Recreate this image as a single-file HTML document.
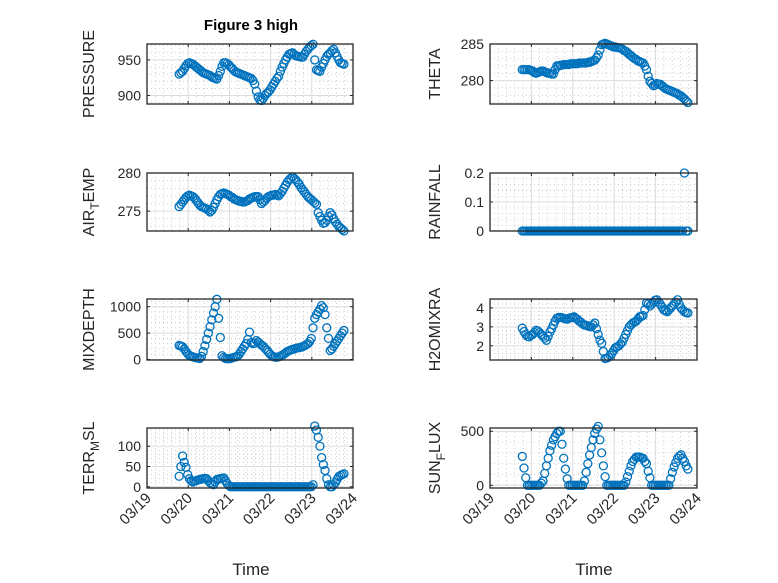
<!DOCTYPE html>
<html><head><meta charset="utf-8"><style>
html,body{margin:0;padding:0;background:#fff}
svg{display:block;font-family:"Liberation Sans","DejaVu Sans",sans-serif}
</style></head><body>
<svg id="fig" width="778" height="583" viewBox="0 0 778 583" xmlns="http://www.w3.org/2000/svg">
<rect width="778" height="583" fill="#fff"/>
<text x="251" y="30" text-anchor="middle" font-size="15" font-weight="bold" fill="#000">Figure 3 high</text>
<text x="251" y="575" text-anchor="middle" font-size="17" fill="#262626">Time</text>
<text x="594" y="575" text-anchor="middle" font-size="17" fill="#262626">Time</text>
</svg>
<script>
// time axis: days since 03/19, hourly samples
const t0 = 0.78;
const tStep = 1/24;
const dateLabels = ["03/19","03/20","03/21","03/22","03/23","03/24"];
const pressure = [930,932,934,938,942,945,946,945,944,942,940,938,936,934,932,931,930,929,928,926,925,924,923,928,934,941,946,946,945,943,940,938,935,933,932,931,930,929,928,927,926,925,924,921,916,906,898,894,893,896,900,903,905,908,912,916,920,924,927,934,940,945,950,954,958,959,960,958,956,955,955,954,954,958,962,965,968,970,972,950,936,935,934,940,945,950,955,958,960,963,965,960,955,950,946,945,944];
const airTemp = [275.6,275.9,276.2,276.5,276.8,277.0,277.1,277.0,276.9,276.7,276.4,276.1,275.8,275.6,275.5,275.4,275.3,275.1,274.9,275.1,275.5,276.0,276.5,276.9,277.2,277.3,277.4,277.3,277.2,277.1,276.9,276.8,276.6,276.5,276.4,276.3,276.3,276.2,276.2,276.3,276.4,276.6,276.7,276.8,276.9,276.9,276.9,276.5,276.0,276.2,276.4,276.7,276.9,277.0,277.1,277.1,277.2,277.1,277.0,277.3,277.6,278.0,278.4,278.8,279.1,279.3,279.5,279.3,279.1,278.8,278.5,278.1,277.8,277.5,277.2,276.9,276.7,276.5,276.3,276.1,275.9,274.8,274.3,273.8,273.4,273.5,273.8,274.3,274.8,274.5,274.0,273.6,273.3,273.0,272.8,272.6,272.4];
const mixDepth = [266,255,240,200,150,110,76,60,50,40,30,25,20,60,150,260,380,500,620,750,880,1000,1140,780,417,70,40,20,15,15,20,30,40,50,60,100,150,200,250,300,380,518,320,300,310,360,330,300,270,250,210,180,140,100,70,50,45,40,50,60,80,100,125,150,165,180,190,200,210,220,225,233,245,260,280,300,340,398,600,780,850,900,950,1020,980,850,600,400,170,200,250,300,350,400,450,500,550];
const terrMsl = [26,50,76,60,48,30,20,15,12,14,15,17,18,19,20,21,20,15,10,7,5,12,18,19,20,21,22,15,8,3,0,0,0,0,0,0,0,0,0,0,0,0,0,0,0,0,0,0,0,0,0,0,0,0,0,0,0,0,0,0,0,0,0,0,0,0,0,0,0,0,0,0,0,0,0,0,0,0,5,150,140,122,100,72,55,40,20,5,0,0,5,10,18,25,28,30,32];
const theta = [281.5,281.5,281.5,281.5,281.5,281.4,281.3,281.1,281.0,281.1,281.2,281.3,281.3,281.2,281.1,281.0,281.0,280.9,280.9,281.5,282.0,282.0,282.1,282.1,282.2,282.2,282.2,282.2,282.3,282.3,282.3,282.3,282.3,282.4,282.4,282.4,282.4,282.4,282.5,282.5,282.6,282.7,282.8,283.1,283.5,284.2,284.9,285.0,285.1,285.0,284.9,284.8,284.7,284.6,284.6,284.5,284.5,284.4,284.3,284.1,284.0,283.8,283.6,283.4,283.2,283.0,282.9,282.7,282.6,282.5,282.4,282.0,281.5,280.6,279.9,279.6,279.3,279.4,279.6,279.5,279.5,279.3,279.1,278.9,278.8,278.7,278.6,278.5,278.4,278.3,278.2,278.0,277.9,277.7,277.5,277.2,277.0];
const rainfall = [0,0,0,0,0,0,0,0,0,0, 0,0,0,0,0,0,0,0,0,0, 0,0,0,0,0,0,0,0,0,0, 0,0,0,0,0,0,0,0,0,0, 0,0,0,0,0,0,0,0,0,0, 0,0,0,0,0,0,0,0,0,0, 0,0,0,0,0,0,0,0,0,0, 0,0,0,0,0,0,0,0,0,0, 0,0,0,0,0,0,0,0,0,0, 0,0,0,0,0.2,0,0];
const h2oMix = [2.93,2.75,2.6,2.5,2.47,2.55,2.6,2.7,2.82,2.78,2.7,2.6,2.5,2.4,2.29,2.5,2.73,2.9,3.1,3.3,3.45,3.5,3.5,3.48,3.45,3.42,3.4,3.45,3.48,3.5,3.53,3.45,3.4,3.3,3.25,3.15,3.1,3.08,3.05,3.02,3.0,3.1,3.2,2.9,2.6,2.3,2.13,1.7,1.33,1.35,1.4,1.5,1.6,1.75,1.9,1.95,2.0,2.1,2.2,2.4,2.6,2.8,3.0,3.1,3.2,3.25,3.3,3.4,3.53,3.55,3.6,3.9,4.25,4.2,4.1,4.2,4.3,4.4,4.43,4.3,4.2,4.05,3.9,3.85,3.8,3.9,4.0,4.1,4.2,4.3,4.43,4.2,4.0,3.9,3.8,3.75,3.73];
const sunFlux = [267,160,70,0,0,0,0,0,0,0,0,20,40,110,180,250,320,370,420,450,480,500,500,380,250,150,60,0,0,0,0,0,0,0,0,0,40,120,200,280,350,420,480,520,545,420,300,180,80,0,0,0,0,0,0,0,0,0,0,0,30,80,130,180,220,240,260,262,262,255,250,220,200,130,70,0,0,0,0,0,0,0,0,0,0,0,60,120,170,210,250,270,282,250,220,180,150];
const pressureTicks = [900,950];
const airTicks = [275,280];
const mixTicks = [0,500,1000];
const terrTicks = [0,50,100];
const thetaTicks = [280,285];
const rainTicks = [0,0.1,0.2];
const h2oTicks = [2,3,4];
const sunTicks = [0,500];

const NS = "http://www.w3.org/2000/svg";
const svg = document.getElementById('fig');
function mk(tag, attrs, parent){const e=document.createElementNS(NS,tag);for(const k in attrs)e.setAttribute(k,attrs[k]);(parent||svg).appendChild(e);return e;}

const panels = [
 {name:'pressure',data:pressure,ticks:pressureTicks,ylim:[888,972.4],x:147,y:44,w:206,h:60,label:['PRESSURE'],bottom:false},
 {name:'theta',data:theta,ticks:thetaTicks,ylim:[276.8,285],x:490,y:44,w:207,h:60,label:['THETA'],bottom:false},
 {name:'air-temp',data:airTemp,ticks:airTicks,ylim:[272.4,280],x:147,y:173,w:206,h:58,label:['AIR','T','EMP'],bottom:false},
 {name:'rainfall',data:rainfall,ticks:rainTicks,ylim:[0,0.2],x:490,y:173,w:207,h:58,label:['RAINFALL'],bottom:false},
 {name:'mixdepth',data:mixDepth,ticks:mixTicks,ylim:[-10,1146],x:147,y:299,w:206,h:61,label:['MIXDEPTH'],bottom:false},
 {name:'h2omixra',data:h2oMix,ticks:h2oTicks,ylim:[1.25,4.47],x:490,y:299,w:207,h:61,label:['H2OMIXRA'],bottom:false},
 {name:'terr-msl',data:terrMsl,ticks:terrTicks,ylim:[-3,145],x:147,y:428,w:206,h:60,label:['TERR','M','SL'],bottom:true},
 {name:'sun-flux',data:sunFlux,ticks:sunTicks,ylim:[-25,530],x:490,y:428,w:207,h:60,label:['SUN','F','LUX'],bottom:true}
];

panels.forEach(p=>{
  const g = mk('g',{});
  
  
  const xs = d => p.x + d/5*p.w;
  const ys = v => p.y + p.h - (v-p.ylim[0])/(p.ylim[1]-p.ylim[0])*p.h;
  for(let d=0; d<5; d+=0.2){ if(Math.abs(d-Math.round(d))<1e-6) continue;
    mk('line',{x1:xs(d),x2:xs(d),y1:p.y,y2:p.y+p.h,stroke:'#bdbdbd','stroke-width':0.7,'stroke-dasharray':'1,3'},g);}
  const tk=p.ticks, st=tk[1]-tk[0], ms=st/5;
  for(let v=Math.ceil(p.ylim[0]/ms)*ms; v<=p.ylim[1]; v+=ms){
    if(Math.abs(v/st-Math.round(v/st))<1e-6) continue;
    mk('line',{x1:p.x,x2:p.x+p.w,y1:ys(v),y2:ys(v),stroke:'#bdbdbd','stroke-width':0.7,'stroke-dasharray':'1,3'},g);}
  for(let d=1; d<5; d++) mk('line',{x1:xs(d),x2:xs(d),y1:p.y,y2:p.y+p.h,stroke:'#dcdcdc','stroke-width':1},g);
  tk.forEach(v=>{ mk('line',{x1:p.x,x2:p.x+p.w,y1:ys(v),y2:ys(v),stroke:'#dcdcdc','stroke-width':1},g);
    const tl = mk('text',{x:p.x-6,y:ys(v)+5,'text-anchor':'end','font-size':14,fill:'#262626'},g);
    
    
    tl.textContent = String(v);
    mk('line',{x1:p.x,x2:p.x+3,y1:ys(v),y2:ys(v),stroke:'#262626','stroke-width':1},g);
    mk('line',{x1:p.x+p.w,x2:p.x+p.w-3,y1:ys(v),y2:ys(v),stroke:'#262626','stroke-width':1},g);
  });
  for(let d=0; d<=5; d++){
    mk('line',{x1:xs(d),x2:xs(d),y1:p.y+p.h,y2:p.y+p.h-3,stroke:'#262626','stroke-width':1},g);
    mk('line',{x1:xs(d),x2:xs(d),y1:p.y,y2:p.y+3,stroke:'#262626','stroke-width':1},g);
    if(p.bottom){
      const xl = mk('text',{x:xs(d)+5,y:p.y+p.h+11,'text-anchor':'end','font-size':15,fill:'#262626',transform:`rotate(-45 ${xs(d)+5} ${p.y+p.h+11})`},g);
      
      
      xl.textContent = dateLabels[d];
    }
  }
  p.data.forEach((v,i)=>{
    const c = mk('circle',{cx:xs(t0+i*tStep),cy:ys(v),r:4,fill:'none',stroke:'#0072BD','stroke-width':1.3},g);
    
    
  });
  mk('rect',{x:p.x,y:p.y,width:p.w,height:p.h,fill:'none',stroke:'#262626','stroke-width':1.3},g);
  const lx = p.x - (p.x<300 ? 53 : 50), ly = p.y + p.h/2;
  const yl = mk('text',{x:lx,y:ly,'text-anchor':'middle','font-size':16,fill:'#262626',transform:`rotate(-90 ${lx} ${ly})`},g);
  
  
  if(p.label.length===1){ yl.textContent=p.label[0]; }
  else {
    const a=mk('tspan',{},yl); a.textContent=p.label[0];
    const b=mk('tspan',{dy:5,'font-size':12},yl); b.textContent=p.label[1];
    const c=mk('tspan',{dy:-5},yl); c.textContent=p.label[2];
  }
});
</script>
</body></html>
